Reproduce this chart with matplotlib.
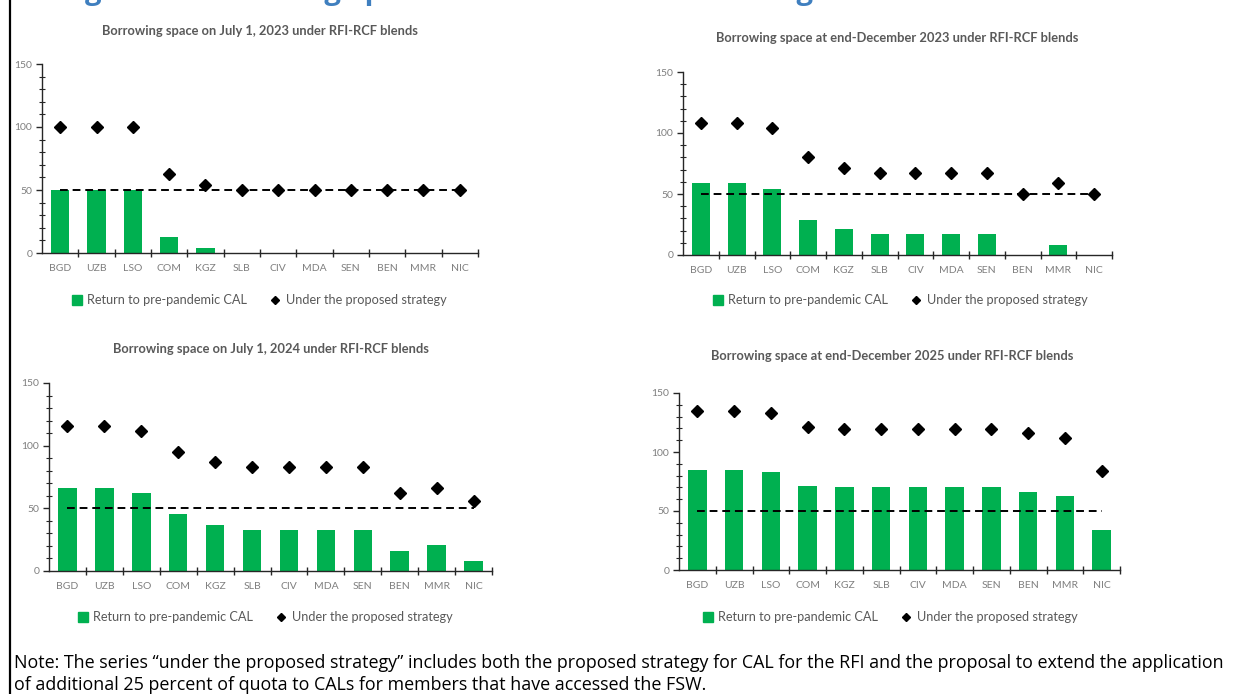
import matplotlib
matplotlib.use("Agg")
import matplotlib.pyplot as plt
from matplotlib.lines import Line2D
from matplotlib.ticker import MultipleLocator, FixedLocator

# Data (percent of quota)
countries = ["BGD", "UZB", "LSO", "COM", "KGZ", "SLB", "CIV", "MDA", "SEN", "BEN", "MMR", "NIC"]

cal_jul23 = [50, 50, 50, 12.5, 4, 0, 0, 0, 0, 0, 0, 0]
prop_jul23 = [100, 100, 100, 63, 54, 50, 50, 50, 50, 50, 50, 50]

cal_dec23 = [59, 59, 54, 29, 21.5, 17, 17, 17, 17, 0, 8.5, 0]
prop_dec23 = [108.5, 108.5, 104.5, 80, 71.5, 67, 67, 67, 67, 50, 59, 50]

cal_jul24 = [66, 66, 62, 45.5, 37, 33, 33, 33, 33, 16, 20.5, 8]
prop_jul24 = [116, 116, 112, 95, 87, 83, 83, 83, 83, 62, 66.5, 56]

cal_dec25 = [85, 85, 83, 71, 70, 70, 70, 70, 70, 66.5, 62.5, 33.5]
prop_dec25 = [134.5, 134.5, 133, 121.5, 119.5, 119.5, 119.5, 119.5, 119.5, 116.5, 112, 83.5]

threshold = 50

titles = [
    "Borrowing space on July 1, 2023 under RFI-RCF blends",
    "Borrowing space at end-December 2023 under RFI-RCF blends",
    "Borrowing space on July 1, 2024 under RFI-RCF blends",
    "Borrowing space at end-December 2025 under RFI-RCF blends",
]
note = ("Note: The series \u201cunder the proposed strategy\u201d includes both the proposed strategy for CAL for the RFI "
        "and the proposal to extend the application\nof additional 25 percent of quota to CALs for members that "
        "have accessed the FSW.")

GREEN = "#00B050"
W, H = 1244, 694

fig = plt.figure(figsize=(W / 100, H / 100), dpi=100)
plt.rcParams["font.family"] = ["Lato", "DejaVu Sans"]


def px_axes(x0, x1, y0, y1):
    # pixel box (top-left origin) -> figure fraction axes
    return fig.add_axes([x0 / W, 1 - y1 / H, (x1 - x0) / W, (y1 - y0) / H])


# panel boxes, title centres and legend positions in pixels
panels = [
    dict(box=(42, 478, 64, 253), title=(260, 31), leg=(72, 300), cal=cal_jul23, prop=prop_jul23),
    dict(box=(683, 1112, 72, 255), title=(897, 38), leg=(713, 300), cal=cal_dec23, prop=prop_dec23),
    dict(box=(49, 492, 383, 571), title=(271, 349), leg=(78, 617), cal=cal_jul24, prop=prop_jul24),
    dict(box=(679, 1120, 393, 570), title=(892, 356), leg=(703, 617), cal=cal_dec25, prop=prop_dec25),
]

x = list(range(len(countries)))

for p, title in zip(panels, titles):
    ax = px_axes(*p["box"])
    ax.bar(x, p["cal"], width=0.5, color=GREEN, zorder=2)
    ax.plot(x, [threshold] * len(x), color="black", lw=1.4, ls=(0, (4, 2.5)), zorder=3)
    ax.plot(x, p["prop"], ls="", marker="D", ms=6, color="black", zorder=4)

    ax.set_xlim(-0.5, 11.5)
    ax.set_ylim(0, 150)
    for s in ["top", "right"]:
        ax.spines[s].set_visible(False)
    for s in ["left", "bottom"]:
        ax.spines[s].set_color("#262626")
        ax.spines[s].set_linewidth(1.0)

    ax.set_yticks([0, 50, 100, 150])
    ax.yaxis.set_minor_locator(MultipleLocator(10))
    ax.set_xticks(x)
    ax.set_xticklabels(countries)
    ax.xaxis.set_minor_locator(FixedLocator([i + 0.5 for i in x]))
    ax.tick_params(axis="x", which="major", length=0, pad=8, labelsize=7.5, labelcolor="#7f7f7f")
    ax.tick_params(axis="x", which="minor", direction="inout", length=6, width=1.0, color="#262626")
    ax.tick_params(axis="y", which="major", direction="out", length=4, width=1.0, color="#262626",
                   labelsize=7.5, labelcolor="#7f7f7f", pad=3)
    ax.tick_params(axis="y", which="minor", direction="inout", length=4, width=0.8, color="#262626")

    tx, ty = p["title"]
    fig.text(tx / W, 1 - ty / H, title, ha="center", va="center", fontsize=9.3,
             fontweight="bold", color="#595959")

    handles = [
        Line2D([], [], ls="", marker="s", ms=7, color=GREEN),
        Line2D([], [], ls="", marker="D", ms=4.5, color="black"),
    ]
    lx, ly = p["leg"]
    fig.legend(handles, ["Return to pre-pandemic CAL", "Under the proposed strategy"],
               loc="center left", bbox_to_anchor=(lx / W, 1 - ly / H), ncol=2, frameon=False,
               borderpad=0, borderaxespad=0, handlelength=0.8, handletextpad=0.4,
               columnspacing=1.8, fontsize=9.2, labelcolor="#595959")

# cut-off figure heading at the very top (only descenders visible, as in the source)
fig.text(60 / W, 1 + 1 / H, "Figure 2. Borrowing Space Under Alternative Settings",
         ha="left", va="baseline", fontsize=21, fontweight="bold", color="#3F7FBF",
         family=["Open Sans", "DejaVu Sans"])

# note under the panels
fig.text(14 / W, 1 - 654 / H, note, ha="left", va="top", fontsize=12.9, color="black",
         linespacing=1.25, family=["Open Sans", "DejaVu Sans"])

# left frame border
fig.add_artist(Line2D([10 / W, 10 / W], [0, 1], transform=fig.transFigure, color="black", lw=1.6))

fig.savefig("out.png", dpi=100)
